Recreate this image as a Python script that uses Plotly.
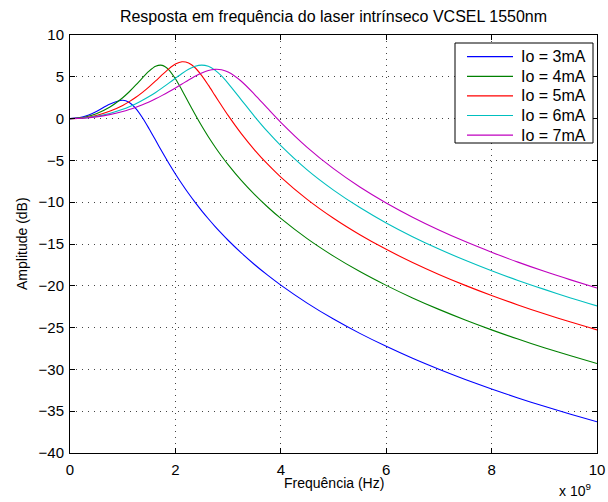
import plotly.graph_objects as go

# Frequency axis in GHz (axis shows "x 10^9" Hz)
freq_ghz = [0, 0.25, 0.5, 0.75, 1.0, 1.125, 1.25, 1.375, 1.5, 1.625, 1.75, 1.875,
            2.0, 2.125, 2.25, 2.375, 2.5, 2.625, 2.75, 2.875, 3.0, 3.25, 3.5, 3.75,
            4.0, 4.5, 5.0, 5.5, 6.0, 6.5, 7.0, 7.5, 8.0, 8.5, 9.0, 9.5, 10.0]

amp_3mA = [0, 0.22, 0.86, 1.73, 2.19, 1.92, 1.19, 0.10, -1.21, -2.60, -4.00, -5.34,
           -6.62, -7.82, -8.96, -10.02, -11.03, -11.98, -12.88, -13.73, -14.55, -16.06,
           -17.45, -18.73, -19.92, -22.07, -23.98, -25.69, -27.24, -28.67, -29.98,
           -31.20, -32.34, -33.41, -34.42, -35.36, -36.26]
amp_4mA = [0, 0.14, 0.59, 1.36, 2.50, 3.21, 4.02, 4.88, 5.68, 6.26, 6.37, 5.84,
           4.77, 3.40, 1.93, 0.49, -0.89, -2.17, -3.36, -4.47, -5.51, -7.40,
           -9.07, -10.57, -11.94, -14.36, -16.45, -18.30, -19.95, -21.45, -22.82,
           -24.09, -25.27, -26.37, -27.40, -28.37, -29.29]
amp_5mA = [0, 0.09, 0.38, 0.87, 1.58, 2.03, 2.55, 3.14, 3.80, 4.51, 5.25, 5.95,
           6.52, 6.80, 6.66, 6.08, 5.14, 4.00, 2.78, 1.56, 0.38, -1.80,
           -3.73, -5.45, -6.99, -9.66, -11.92, -13.89, -15.64, -17.21, -18.64,
           -19.95, -21.16, -22.29, -23.35, -24.34, -25.27]
amp_6mA = [0, 0.07, 0.27, 0.62, 1.12, 1.43, 1.79, 2.19, 2.64, 3.13, 3.67, 4.24,
           4.83, 5.40, 5.90, 6.26, 6.40, 6.25, 5.80, 5.10, 4.22, 2.25,
           0.27, -1.57, -3.23, -6.13, -8.55, -10.64, -12.48, -14.12, -15.60,
           -16.95, -18.20, -19.36, -20.43, -21.45, -22.40]
amp_7mA = [0, 0.05, 0.21, 0.48, 0.86, 1.10, 1.37, 1.67, 2.00, 2.37, 2.78, 3.21,
           3.67, 4.14, 4.62, 5.07, 5.46, 5.75, 5.89, 5.84, 5.57, 4.47,
           2.91, 1.21, -0.45, -3.44, -5.99, -8.18, -10.09, -11.79, -13.32,
           -14.71, -15.98, -17.17, -18.27, -19.29, -20.26]

series_names = ["Io = 3mA", "Io = 4mA", "Io = 5mA", "Io = 6mA", "Io = 7mA"]
series_values = [amp_3mA, amp_4mA, amp_5mA, amp_6mA, amp_7mA]
series_colors = ["#0000FF", "#008000", "#FF0000", "#00BFBF", "#BF00BF"]

x_ticks = [0, 2, 4, 6, 8, 10]
y_ticks = [-40, -35, -30, -25, -20, -15, -10, -5, 0, 5, 10]

title_text = "Resposta em frequência do laser intrínseco VCSEL 1550nm"
x_label = "Frequência (Hz)"
y_label = "Amplitude (dB)"
x_exp = "x 10<sup>9</sup>"

FONT = "Liberation Sans, Arial, Helvetica, sans-serif"

# plot-area geometry in page pixels
W, H = 608, 502
PL, PR, PT, PB = 70, 597, 35, 453


def px(xp):
    return (xp - PL) / (PR - PL)


def py(yp):
    return (PB - yp) / (PB - PT)


fig = go.Figure()
for name, vals, col in zip(series_names, series_values, series_colors):
    fig.add_trace(go.Scatter(x=freq_ghz, y=vals, mode="lines", name=name, showlegend=False,
                             line=dict(color=col, width=1.1, shape="spline", smoothing=0.8)))

axis_common = dict(
    showline=True, linecolor="black", linewidth=1, mirror="ticks",
    ticks="inside", ticklen=5, tickcolor="black", tickwidth=1,
    showgrid=True, gridcolor="#444444", gridwidth=1, griddash="1px,5px",
    zeroline=False, automargin=False,
    tickfont=dict(family=FONT, size=15, color="black"),
)

fig.update_xaxes(range=[0, 10], tickvals=x_ticks, ticklabelstandoff=3, **axis_common)
fig.update_yaxes(range=[-40, 10], tickvals=y_ticks, ticklabelstandoff=2, **axis_common)

# manual legend (MATLAB style box)
shapes = [dict(type="rect", xref="paper", yref="paper",
               x0=px(455), x1=px(593), y0=py(143), y1=py(43),
               line=dict(color="black", width=1), fillcolor="white", layer="above")]
annotations = []
row0, drow = 56.7, 19.6
for i, (name, col) in enumerate(zip(series_names, series_colors)):
    yy = py(row0 + i * drow)
    shapes.append(dict(type="line", xref="paper", yref="paper",
                       x0=px(467), x1=px(513), y0=yy, y1=yy,
                       line=dict(color=col, width=1.2), layer="above"))
    annotations.append(dict(text=name, xref="paper", yref="paper", x=px(519), y=yy,
                            xanchor="left", yanchor="middle", showarrow=False,
                            font=dict(family=FONT, size=16, color="black")))

annotations += [
    dict(text=x_label, xref="paper", yref="paper", x=0.5, y=py(483),
         xanchor="center", yanchor="middle", showarrow=False,
         font=dict(family=FONT, size=14, color="black")),
    dict(text=y_label, xref="paper", yref="paper", x=px(22), y=0.5,
         xanchor="center", yanchor="middle", textangle=-90, showarrow=False,
         font=dict(family=FONT, size=14, color="black")),
    dict(text=x_exp, xref="paper", yref="paper", x=px(575), y=py(490),
         xanchor="center", yanchor="middle", showarrow=False,
         font=dict(family=FONT, size=14, color="black")),
]

fig.update_layout(
    width=W, height=H,
    margin=dict(l=PL, r=W - PR, t=PT, b=H - PB, autoexpand=False),
    plot_bgcolor="white", paper_bgcolor="white",
    font=dict(family=FONT, size=14, color="black"),
    title=dict(text=title_text, x=0.5, xref="paper", xanchor="center",
               y=1 - 16 / H, yref="container", yanchor="middle",
               font=dict(family=FONT, size=16, color="black")),
    showlegend=False,
    shapes=shapes,
    annotations=annotations,
)

fig.write_html("out.html", config={"displayModeBar": False},
               post_script="document.body.style.margin='0px';")
